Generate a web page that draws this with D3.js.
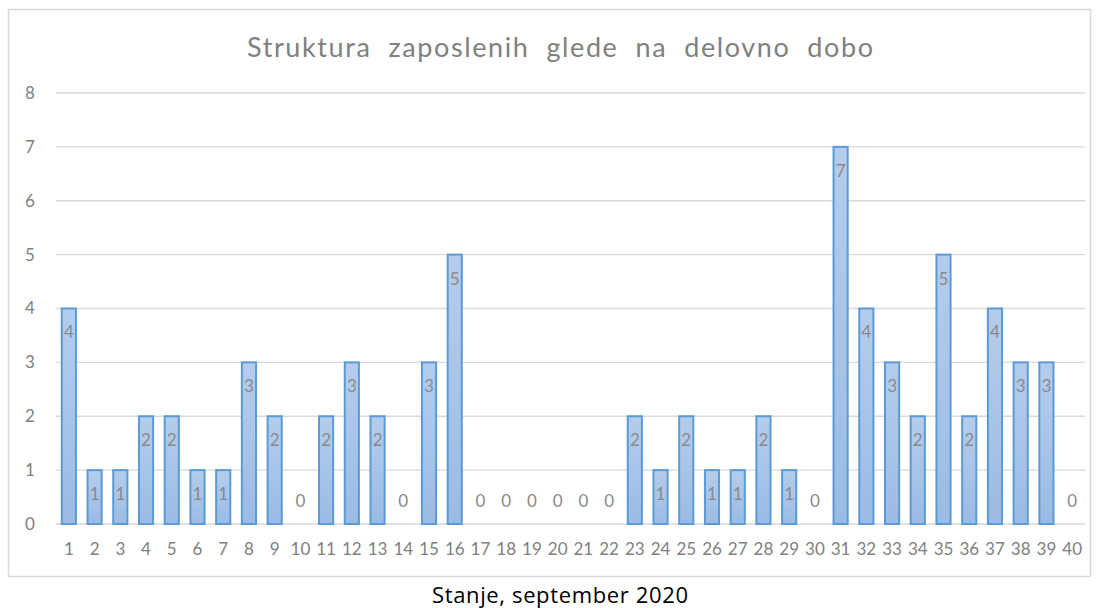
<!DOCTYPE html>
<html><head><meta charset="utf-8">
<script src="https://cdn.jsdelivr.net/npm/d3@7"></script>
<style>
body{margin:0;background:#fff;}
svg text{font-family:Lato,"Open Sans",sans-serif;}
</style></head>
<body>
<svg id="chart" width="1100" height="608"></svg>
<script>
const categories = d3.range(1, 41).map(String);
const values = [4,1,1,2,2,1,1,3,2,0,2,3,2,0,3,5,0,0,0,0,0,0,2,1,2,1,1,2,1,0,7,4,3,2,5,2,4,3,3,0];
const yTicks = [0,1,2,3,4,5,6,7,8];
const title = "Struktura  zaposlenih  glede  na  delovno  dobo";
const caption = "Stanje, september 2020";

const svg = d3.select("#chart");
const defs = svg.append("defs");
const grad = defs.append("linearGradient").attr("id","barGrad").attr("x1",0).attr("y1",0).attr("x2",0).attr("y2",1);
grad.append("stop").attr("offset","0%").attr("stop-color","#b5cdec");
grad.append("stop").attr("offset","100%").attr("stop-color","#9bbbe4");

// outer frame
svg.append("rect").attr("x",8.5).attr("y",9.5).attr("width",1082).attr("height",567)
  .attr("fill","#fff").attr("stroke","#d9d9d9").attr("stroke-width",1.5);

const x = d3.scaleBand().domain(categories).range([56, 1085]).paddingInner(0.45).paddingOuter(0.225);
const y = d3.scaleLinear().domain([0, 8]).range([524, 93]);

// gridlines
svg.append("g").selectAll("line").data(yTicks).join("line")
  .attr("x1",56).attr("x2",1085).attr("y1",d=>y(d)).attr("y2",d=>y(d))
  .attr("stroke","#d9d9d9").attr("stroke-width",1.3);

// y axis labels
const yAxis = d3.axisLeft(y).tickValues(yTicks).tickSize(0).tickPadding(0);
const gy = svg.append("g").attr("transform","translate(36,0)").call(yAxis);
gy.select(".domain").remove();
gy.selectAll("text").attr("font-size",17).attr("fill","#808080").attr("text-anchor","middle").attr("x",-6)
  .style("font-family","Lato, sans-serif");

// x axis labels
const xAxis = d3.axisBottom(x).tickSize(0).tickPadding(0);
const gx = svg.append("g").attr("transform","translate(0,540)").call(xAxis);
gx.select(".domain").remove();
gx.selectAll("text").attr("font-size",17).attr("fill","#808080").attr("dy","0.9em")
  .style("font-family","Lato, sans-serif");

// bars
svg.append("g").selectAll("rect").data(values).join("rect")
  .attr("x",(d,i)=>x(categories[i]))
  .attr("width",x.bandwidth())
  .attr("y",d=>y(d))
  .attr("height",d=>y(0)-y(d))
  .attr("fill","url(#barGrad)")
  .attr("stroke","#5b9bd5").attr("stroke-width",2)
  .attr("display",d=>d>0?null:"none");

// data labels
svg.append("g").selectAll("text").data(values).join("text")
  .attr("x",(d,i)=>x(categories[i])+x.bandwidth()/2)
  .attr("y",d=>d>0 ? y(d)+24 : y(0)-23)
  .attr("dy","0.35em")
  .attr("text-anchor","middle")
  .attr("font-size",17).attr("fill","#8a8a8a")
  .text(d=>d);

// title
svg.append("text").attr("x",560).attr("y",57).attr("text-anchor","middle")
  .attr("font-size",27).attr("fill","#808080")
  .attr("textLength",626).attr("lengthAdjust","spacing")
  .attr("xml:space","preserve").style("white-space","pre")
  .text(title);

// caption
svg.append("text").attr("x",560).attr("y",603).attr("text-anchor","middle")
  .attr("font-size",22).attr("fill","#000")
  .attr("textLength",256).attr("lengthAdjust","spacing")
  .style("font-family","'Open Sans', sans-serif")
  .text(caption);
</script>
</body></html>
